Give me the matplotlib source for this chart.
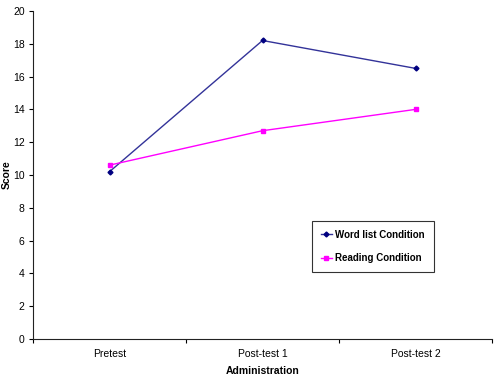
import matplotlib
matplotlib.use('Agg')
import matplotlib.pyplot as plt
from matplotlib.ticker import FixedLocator, NullFormatter

plt.rcParams['font.family'] = ['Liberation Sans', 'DejaVu Sans']

categories = ['Pretest', 'Post-test 1', 'Post-test 2']
word_list = [10.2, 18.2, 16.5]
reading = [10.6, 12.7, 14.0]

fig = plt.figure(figsize=(5, 3.78), dpi=100)
ax = fig.add_axes([0.066, 0.103, 0.918, 0.868])

x = list(range(len(categories)))
ax.plot(x, word_list, color='#333399', lw=1, marker='D', ms=2.5,
        mfc='#000080', mec='#000080', label='Word list Condition')
ax.plot(x, reading, color='#FF00FF', lw=1, marker='s', ms=2.5,
        mfc='#FF00FF', mec='#FF00FF', label='Reading Condition')

ax.set_xlim(-0.5, len(categories) - 0.5)
ax.set_ylim(0, 20)
ax.set_yticks(range(0, 21, 2))
ax.set_xticks(x)
ax.set_xticklabels(categories, fontsize=7.5)
ax.tick_params(axis='x', which='major', length=0, pad=7)
ax.xaxis.set_minor_locator(FixedLocator([i - 0.5 for i in range(len(categories) + 1)]))
ax.xaxis.set_minor_formatter(NullFormatter())
ax.tick_params(axis='x', which='minor', length=3, width=0.8, direction='out')
ax.tick_params(axis='y', labelsize=7.5, length=3, width=0.8, pad=3)

for s in ['top', 'right']:
    ax.spines[s].set_visible(False)
for s in ['left', 'bottom']:
    ax.spines[s].set_linewidth(0.8)
    ax.spines[s].set_color('#222222')

ax.set_xlabel('Administration', fontsize=7.5, fontweight='bold', labelpad=5)
ax.set_ylabel('Score', fontsize=7.5, fontweight='bold', va='center')
ax.yaxis.set_label_coords(-0.058, 0.5)

leg = ax.legend(loc='upper left', bbox_to_anchor=(0.597, 0.375),
                prop={'weight': 'bold', 'size': 7}, frameon=True, fancybox=False,
                edgecolor='black', handlelength=1.2, labelspacing=1.4,
                borderpad=0.9, handletextpad=0.3)
leg.get_frame().set_linewidth(0.8)

fig.savefig('out.png', dpi=100)
